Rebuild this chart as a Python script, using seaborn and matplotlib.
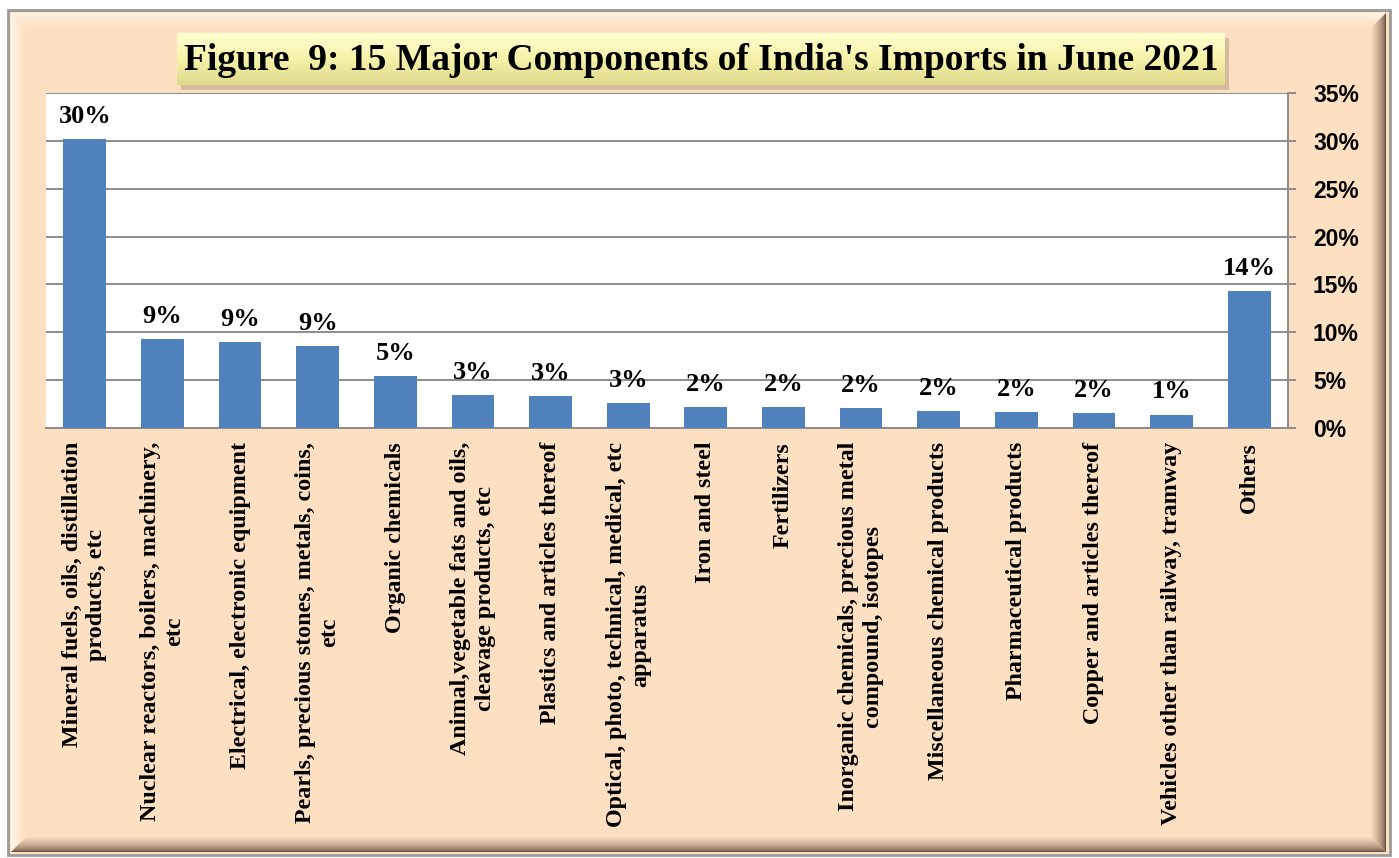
import numpy as np
import pandas as pd
import matplotlib
matplotlib.use("Agg")
import matplotlib.pyplot as plt
import matplotlib.colors as mcolors
import seaborn as sns
from matplotlib.patches import Rectangle, Polygon

# data (share of imports, %)
categories = [
    "Mineral fuels, oils, distillation\nproducts, etc",
    "Nuclear reactors, boilers, machinery,\netc",
    "Electrical, electronic equipment",
    "Pearls, precious stones, metals, coins,\netc",
    "Organic chemicals",
    "Animal,vegetable fats and oils,\ncleavage products, etc",
    "Plastics and articles thereof",
    "Optical, photo, technical, medical, etc\napparatus",
    "Iron and steel",
    "Fertilizers",
    "Inorganic chemicals, precious metal\ncompound, isotopes",
    "Miscellaneous chemical products",
    "Pharmaceutical products",
    "Copper and articles thereof",
    "Vehicles other than railway, tramway",
    "Others",
]
shares = [30.2, 9.3, 9.0, 8.6, 5.4, 3.45, 3.35, 2.6, 2.2, 2.2, 2.1, 1.8, 1.7, 1.6, 1.4, 14.3]
value_labels = ["30%", "9%", "9%", "9%", "5%", "3%", "3%", "3%", "2%", "2%", "2%", "2%", "2%", "2%", "1%", "14%"]
y_ticks = [0, 5, 10, 15, 20, 25, 30, 35]
title = "Figure  9: 15 Major Components of India's Imports in June 2021"

df = pd.DataFrame({"category": categories, "share": shares})

W, H = 1399, 858
PEACH = "#FDE0C2"
GRID = "#8C8C8C"
BLUE = "#4F81BD"
SERIF = "Liberation Serif"


def fx(x):
    return x / W


def fy(y):
    return 1 - y / H


def mix(c1, c2, t):
    a = np.array(mcolors.to_rgb(c1))
    b = np.array(mcolors.to_rgb(c2))
    return tuple(a + (b - a) * t)


def poly(pts, col, z):
    fig.add_artist(Polygon([(fx(a), fy(b)) for a, b in pts], closed=True,
                           transform=fig.transFigure, facecolor=col,
                           edgecolor="none", zorder=z))


fig = plt.figure(figsize=(W / 100, H / 100), dpi=100)
fig.patch.set_facecolor("white")

# outer frame with a bevel
fig.add_artist(Rectangle((fx(8), fy(855)), fx(1390) - fx(8), fy(10) - fy(855),
                         transform=fig.transFigure, facecolor=PEACH,
                         edgecolor="#9A9A9A", lw=2, zorder=0))
L, T, R, B = 11, 13, 1386, 852
bev = 16
for k in range(bev):
    t = (k / (bev - 1)) ** 0.6
    d = k
    light = mix("#FFF6EC", PEACH, t)
    dark = mix("#6E5242", PEACH, t)
    poly([(L + d, T + d), (R - d, T + d), (R - d - 1, T + d + 1), (L + d + 1, T + d + 1)], light, 0.5)
    poly([(L + d, T + d), (L + d + 1, T + d + 1), (L + d + 1, B - d - 1), (L + d, B - d)], light, 0.5)
    poly([(R - d, T + d), (R - d, B - d), (R - d - 1, B - d - 1), (R - d - 1, T + d + 1)], dark, 0.5)
    poly([(L + d, B - d), (R - d, B - d), (R - d - 1, B - d - 1), (L + d + 1, B - d - 1)], dark, 0.5)

# main plot area
ax = fig.add_axes([fx(46), fy(428), fx(1288) - fx(46), fy(93) - fy(428)])
ax.set_facecolor("white")
sns.barplot(data=df, x="category", y="share", color=BLUE, saturation=1,
            width=0.55, ax=ax, zorder=3)

ax.set_ylim(0, 35)
ax.set_xlim(-0.5, len(categories) - 0.5)
ax.yaxis.tick_right()
ax.set_yticks(y_ticks)
ax.set_yticklabels([f"{t}%" for t in y_ticks], fontsize=16.5,
                   fontweight="bold", family="Liberation Sans", ha="left")
ax.grid(axis="y", color=GRID, lw=1.4, zorder=0)
ax.set_axisbelow(True)
ax.tick_params(axis="y", which="major", right=True, left=False,
               length=6, width=1.4, color=GRID, pad=12)
ax.tick_params(axis="x", length=0, pad=10)
ax.set_xticks(range(len(categories)))
ax.set_xticklabels(categories, rotation=90, ha="center", va="top",
                   multialignment="center", fontsize=17.3,
                   fontweight="bold", family=SERIF)
ax.set_xlabel("")
ax.set_ylabel("")
for side in ["top", "left"]:
    ax.spines[side].set_visible(False)
ax.spines["right"].set_color(GRID)
ax.spines["right"].set_linewidth(1.4)
ax.spines["bottom"].set_color(GRID)
ax.spines["bottom"].set_linewidth(1.4)

ax.bar_label(ax.containers[0], labels=value_labels, padding=8,
             fontsize=19, fontweight="bold", family=SERIF)

# title box with gradient and shadow
bx0, by0, bx1, by1 = 177, 33, 1225, 85
fig.add_artist(Rectangle((fx(bx0 + 4), fy(by1 + 5)), fx(bx1) - fx(bx0), fy(by0) - fy(by1),
                         transform=fig.transFigure, facecolor="#B89E84",
                         edgecolor="none", alpha=0.55, zorder=1))
tax = fig.add_axes([fx(bx0), fy(by1), fx(bx1) - fx(bx0), fy(by0) - fy(by1)])
tax.set_zorder(5)
grad = np.linspace(0, 1, 100).reshape(-1, 1)
cmap = mcolors.LinearSegmentedColormap.from_list("ttl", ["#FFFFD0", "#F6F2AA", "#DDDA8C"])
tax.imshow(grad, aspect="auto", cmap=cmap, extent=(0, 1, 0, 1), origin="upper")
tax.set_axis_off()
tax.text(0.5, 0.47, title, ha="center", va="center", fontsize=27,
         fontweight="bold", family=SERIF, color="black", transform=tax.transAxes)

fig.savefig("out.png", dpi=100, facecolor=fig.get_facecolor())
